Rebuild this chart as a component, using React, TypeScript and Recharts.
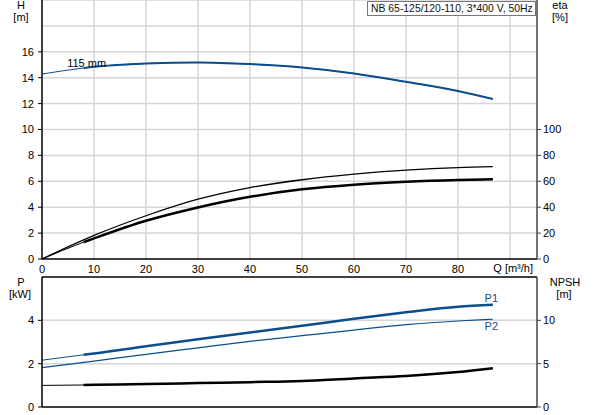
import React from "react";
import {
  ComposedChart,
  Line,
  XAxis,
  YAxis,
  CartesianGrid,
  ReferenceLine,
} from "recharts";

// flow points [m³/h]
const flow = [0, 8, 10, 20, 30, 40, 50, 60, 70, 80, 86.7];
const head = [14.28, 14.75, 14.84, 15.1, 15.18, 15.05, 14.79, 14.33, 13.68, 12.97, 12.35];
const etaUpper = [0, 14.8, 18.2, 33.4, 46.2, 55.2, 61.2, 65.5, 68.6, 70.6, 71.3];
const etaLower = [0, 13.0, 15.9, 29.5, 39.8, 48.0, 53.8, 57.4, 59.6, 61.0, 61.6];
const powerP1 = [2.16, 2.41, 2.47, 2.8, 3.13, 3.44, 3.75, 4.07, 4.37, 4.63, 4.72];
const powerP2 = [1.82, 2.06, 2.12, 2.43, 2.73, 3.03, 3.29, 3.55, 3.8, 3.97, 4.05];
const npsh = [2.49, 2.54, 2.56, 2.64, 2.76, 2.87, 3.0, 3.3, 3.57, 4.03, 4.47];

const qTicks = [0, 10, 20, 30, 40, 50, 60, 70, 80];
const qGrid = [10, 20, 30, 40, 50, 60, 70, 80, 90];
const hTicks = [0, 2, 4, 6, 8, 10, 12, 14, 16];
const hGrid = [2, 4, 6, 8, 10, 12, 14, 16, 18, 20];
const etaTicks = [0, 20, 40, 60, 80, 100];
const pTicks = [0, 2, 4];
const npshTicks = [0, 5, 10];
const dutyStart = 8;

const title = "NB 65-125/120-110, 3*400 V, 50Hz";
const curveName = "115 mm";

const rows = flow.map((q, i) => {
  const duty = q >= dutyStart;
  return {
    q,
    head: head[i],
    headDuty: duty ? head[i] : null,
    etaUpper: etaUpper[i],
    etaLower: etaLower[i],
    etaLowerDuty: duty ? etaLower[i] : null,
    p1: powerP1[i],
    p1Duty: duty ? powerP1[i] : null,
    p2: powerP2[i],
    npsh: npsh[i],
    npshDuty: duty ? npsh[i] : null,
  };
});

const BLUE = "#0c4e8c";
const FONT = "'Liberation Sans', Arial, sans-serif";
const tickStyle = { fontSize: 11, fill: "#000", fontFamily: FONT };
const last = rows.length - 1;

const endLabel = (text: string, dy: number) => (props: any) => {
  if (props.index !== last) return null;
  return (
    <text
      x={props.x - 1.5}
      y={props.y + dy}
      textAnchor="middle"
      fontSize={11}
      fontFamily={FONT}
      fill={BLUE}
    >
      {text}
    </text>
  );
};

const headLabel = (props: any) => {
  if (props.index !== 1) return null;
  return (
    <text x={props.x + 3} y={props.y - 1} textAnchor="middle" fontSize={11} fontFamily={FONT} fill="#000">
      {curveName}
    </text>
  );
};

export default function App() {
  return (
    <div style={{ position: "relative", width: 593, height: 415, background: "#fff", fontFamily: FONT }}>
      <style>{"body{margin:0}"}</style>
      <div style={{ position: "absolute", left: 0, top: 0 }}>
        <ComposedChart width={593} height={279} data={rows} margin={{ top: 0, right: 0, bottom: 0, left: 0 }}>
          <CartesianGrid
            yAxisId="h"
            stroke="#d6d6d6"
            strokeWidth={1.5}
            horizontalValues={hGrid}
            verticalValues={qGrid}
          />
          <XAxis
            dataKey="q"
            type="number"
            domain={[0, 95.2]}
            ticks={qTicks}
            interval={0}
            allowDataOverflow
            height={20}
            tickLine={false}
            tickSize={4}
            tickMargin={2}
            tick={tickStyle}
            axisLine={{ stroke: "#000", strokeWidth: 1.5 }}
          />
          <YAxis
            yAxisId="h"
            domain={[0, 20]}
            ticks={hTicks}
            interval={0}
            width={42}
            tickSize={4}
            tickMargin={4}
            tick={tickStyle}
            axisLine={{ stroke: "#000", strokeWidth: 1.5 }}
            tickLine={{ stroke: "#000" }}
          />
          <YAxis
            yAxisId="eta"
            orientation="right"
            domain={[0, 200]}
            ticks={etaTicks}
            interval={0}
            width={56}
            tickSize={4}
            tickMargin={2}
            tick={tickStyle}
            axisLine={{ stroke: "#444", strokeWidth: 1.5 }}
            tickLine={{ stroke: "#444" }}
          />
          <Line yAxisId="h" type="monotone" dataKey="head" stroke={BLUE} strokeWidth={1} dot={false} isAnimationActive={false} />
          <Line yAxisId="h" type="monotone" dataKey="headDuty" stroke={BLUE} strokeWidth={2} dot={false} isAnimationActive={false} label={headLabel} />
          <Line yAxisId="eta" type="monotone" dataKey="etaUpper" stroke="#000" strokeWidth={1.3} dot={false} isAnimationActive={false} />
          <Line yAxisId="eta" type="monotone" dataKey="etaLower" stroke="#000" strokeWidth={1} dot={false} isAnimationActive={false} />
          <Line yAxisId="eta" type="monotone" dataKey="etaLowerDuty" stroke="#000" strokeWidth={2.5} dot={false} isAnimationActive={false} />
        </ComposedChart>
      </div>

      <div style={{ position: "absolute", left: 0, top: 272 }}>
        <ComposedChart width={593} height={143} data={rows} margin={{ top: 5, right: 0, bottom: 0, left: 0 }}>
          <CartesianGrid
            yAxisId="p"
            stroke="#d6d6d6"
            strokeWidth={1.5}
            horizontalValues={[2, 4]}
            verticalValues={qGrid}
          />
          <XAxis
            dataKey="q"
            type="number"
            domain={[0, 95.2]}
            ticks={qTicks}
            allowDataOverflow
            height={8}
            tick={false}
            tickLine={false}
            axisLine={{ stroke: "#000", strokeWidth: 1.5 }}
          />
          <YAxis
            yAxisId="p"
            domain={[0, 6]}
            ticks={pTicks}
            interval={0}
            width={42}
            tickSize={4}
            tickMargin={4}
            tick={tickStyle}
            axisLine={{ stroke: "#000", strokeWidth: 1.5 }}
            tickLine={{ stroke: "#000" }}
          />
          <YAxis
            yAxisId="npsh"
            orientation="right"
            domain={[0, 15]}
            ticks={npshTicks}
            interval={0}
            width={56}
            tickSize={4}
            tickMargin={2}
            tick={tickStyle}
            axisLine={{ stroke: "#444", strokeWidth: 1.5 }}
            tickLine={{ stroke: "#444" }}
          />
          <ReferenceLine yAxisId="p" y={6} stroke="#000" strokeWidth={1.5} />
          <Line yAxisId="p" type="monotone" dataKey="p1" stroke={BLUE} strokeWidth={1} dot={false} isAnimationActive={false} />
          <Line yAxisId="p" type="monotone" dataKey="p1Duty" stroke={BLUE} strokeWidth={2.5} dot={false} isAnimationActive={false} label={endLabel("P1", -3)} />
          <Line yAxisId="p" type="monotone" dataKey="p2" stroke={BLUE} strokeWidth={1.2} dot={false} isAnimationActive={false} label={endLabel("P2", 11)} />
          <Line yAxisId="npsh" type="monotone" dataKey="npsh" stroke="#000" strokeWidth={1} dot={false} isAnimationActive={false} />
          <Line yAxisId="npsh" type="monotone" dataKey="npshDuty" stroke="#000" strokeWidth={2.5} dot={false} isAnimationActive={false} />
        </ComposedChart>
      </div>

      <svg width={593} height={415} style={{ position: "absolute", left: 0, top: 0, pointerEvents: "none" }}>
        <g fontSize={11} fontFamily={FONT} fill="#000" textAnchor="middle">
          <text x={21} y={9}>H</text>
          <text x={21} y={21}>[m]</text>
          <text x={560} y={9}>eta</text>
          <text x={560} y={21}>[%]</text>
          <text x={21} y={286}>P</text>
          <text x={20} y={298}>[kW]</text>
          <text x={565} y={286}>NPSH</text>
          <text x={564} y={298}>[m]</text>
          <text x={533} y={272} textAnchor="end">Q [m³/h]</text>
        </g>
      </svg>

      <div
        style={{
          position: "absolute",
          left: 367,
          top: 1,
          width: 169,
          height: 15,
          border: "1px solid #777",
          background: "#fff",
          fontSize: 10.4,
          lineHeight: "13px",
          paddingLeft: 3,
          boxSizing: "border-box",
          whiteSpace: "nowrap",
          overflow: "hidden",
          color: "#111",
        }}
      >
        {title}
      </div>
    </div>
  );
}
